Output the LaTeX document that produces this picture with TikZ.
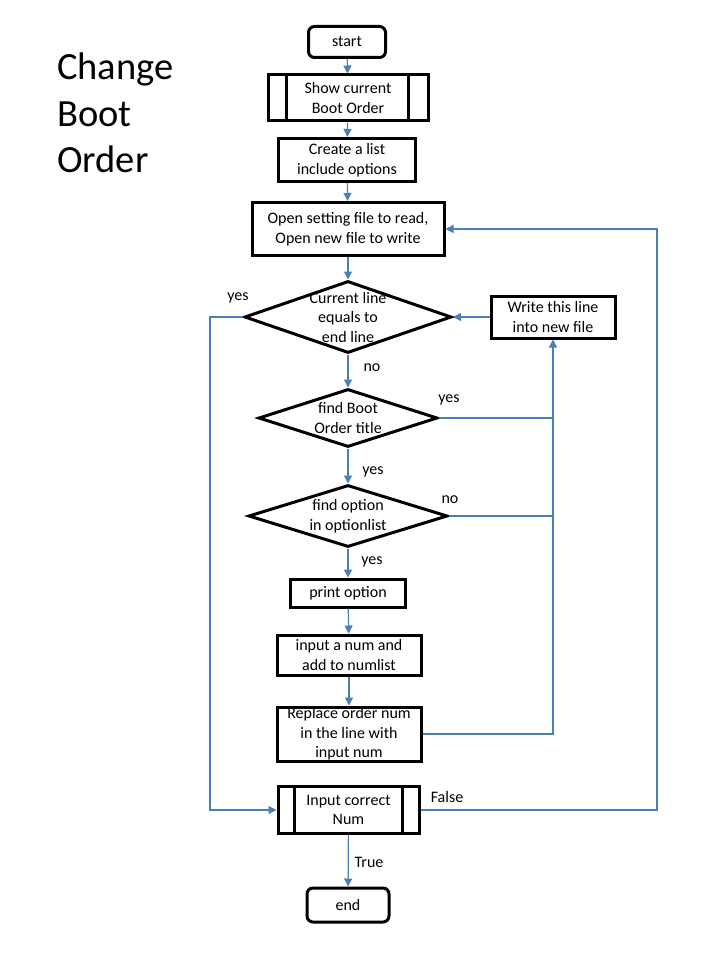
\documentclass[tikz,border=0pt]{standalone}
\usepackage{fontspec}
\setmainfont{Carlito}
\usetikzlibrary{shapes.geometric,arrows.meta,calc}
\definecolor{conn}{RGB}{74,126,187}
\tikzset{
  box/.style={draw=black,line width=3pt,rectangle,inner sep=0pt,align=center,font=\fontsize{16}{19.5}\selectfont},
  term/.style={box,rounded corners=6pt},
  dia/.style={draw=black,line width=3pt,diamond,inner sep=0pt},
  txt/.style={inner sep=0pt,align=center,font=\fontsize{16}{19.5}\selectfont},
  flow/.style={draw=conn,line width=1.2pt,-{Triangle[width=8pt,length=8pt]}},
  plain/.style={draw=conn,line width=1.2pt},
  lbl/.style={inner sep=0pt,font=\fontsize{16}{19.5}\selectfont},
  inner/.style={draw=black,line width=3pt}
}
\begin{document}
\begin{tikzpicture}[x=1pt,y=-1pt]
\useasboundingbox (0,0) rectangle (720,960);
\fill[white] (0,0) rectangle (720,960);
% title
\node[anchor=north west,inner sep=0pt,align=left,font=\fontsize{38.5}{46.5}\selectfont] (title) at (57,53) {Change\\Boot\\Order};
% nodes
\node[term,minimum width=77pt,minimum height=31pt] (start) at (347,42) {start};
\node[box,minimum width=160pt,minimum height=46pt] (show) at (348,98) {Show current\\Boot Order};
\draw[inner] ($(show.north west)+(20,0)$) -- ($(show.south west)+(20,0)$);
\draw[inner] ($(show.north east)+(-21,0)$) -- ($(show.south east)+(-21,0)$);
\node[box,minimum width=137pt,minimum height=43pt] (create) at (347,160) {Create a list\\include options};
\node[box,minimum width=192pt,minimum height=53pt] (open) at (348,229) {Open setting file to read,\\Open new file to write};
\node[dia,minimum width=207pt,minimum height=72pt] (d1) at (348,317) {};
\node[txt] (d1t) at (348,317) {Current line\\equals to\\end line};
\node[box,minimum width=124pt,minimum height=42pt] (write) at (553,317) {Write this line\\into new file};
\node[dia,minimum width=179pt,minimum height=58pt] (d2) at (348,418) {};
\node[txt] (d2t) at (348,418) {find Boot\\Order title};
\node[dia,minimum width=199pt,minimum height=62pt] (d3) at (348,516) {};
\node[txt] (d3t) at (348,516) {find option\\in optionlist};
\node[box,minimum width=115pt,minimum height=28pt] (print) at (348,593) {print option};
\node[box,minimum width=144pt,minimum height=40pt] (num) at (349,655) {input a num and\\add to numlist};
\node[box,minimum width=144pt,minimum height=54pt] (repl) at (349,734) {Replace order num\\in the line with\\input num};
\node[box,minimum width=141pt,minimum height=47pt] (inc) at (348.5,810) {Input correct\\Num};
\draw[inner] ($(inc.north west)+(18,0)$) -- ($(inc.south west)+(18,0)$);
\draw[inner] ($(inc.north east)+(-18,0)$) -- ($(inc.south east)+(-18,0)$);
\node[term,minimum width=82pt,minimum height=34pt] (end) at (348,905) {end};
% helper coordinates
\coordinate (L) at (210,317);
\coordinate (R) at (657,810);
% connectors
\draw[flow] (start) -- (show);
\draw[flow] (show) -- (create);
\draw[flow] (create) -- (open);
\draw[flow] (open) -- (d1);
\draw[flow] (d1.south) -- (d2.north);
\draw[flow] (d2.south) -- (d3.north);
\draw[flow] (d3.south) -- (print.north);
\draw[flow] (print) -- (num);
\draw[flow] (num) -- (repl);
\draw[flow] (inc) -- (end);
\draw[flow] (write.west) -- (d1.east);
\draw[flow] (repl.east) -| (write.south);
\draw[plain] (d2.east) -- (d2.east -| write.south);
\draw[plain] (d3.east) -- (d3.east -| write.south);
\draw[flow] (d1.west) -- (L) |- (inc.west);
\draw[flow] (inc.east) -- (R) |- (open.east);
% labels
\node[lbl] (l1) at (238,298) {yes};
\node[lbl] (l2) at (372,368) {no};
\node[lbl] (l3) at (449,400) {yes};
\node[lbl] (l4) at (373,472) {yes};
\node[lbl] (l5) at (450,500) {no};
\node[lbl] (l6) at (372,562) {yes};
\node[lbl] (l7) at (447,797) {False};
\node[lbl] (l8) at (369,862) {True};
\end{tikzpicture}
\end{document}
